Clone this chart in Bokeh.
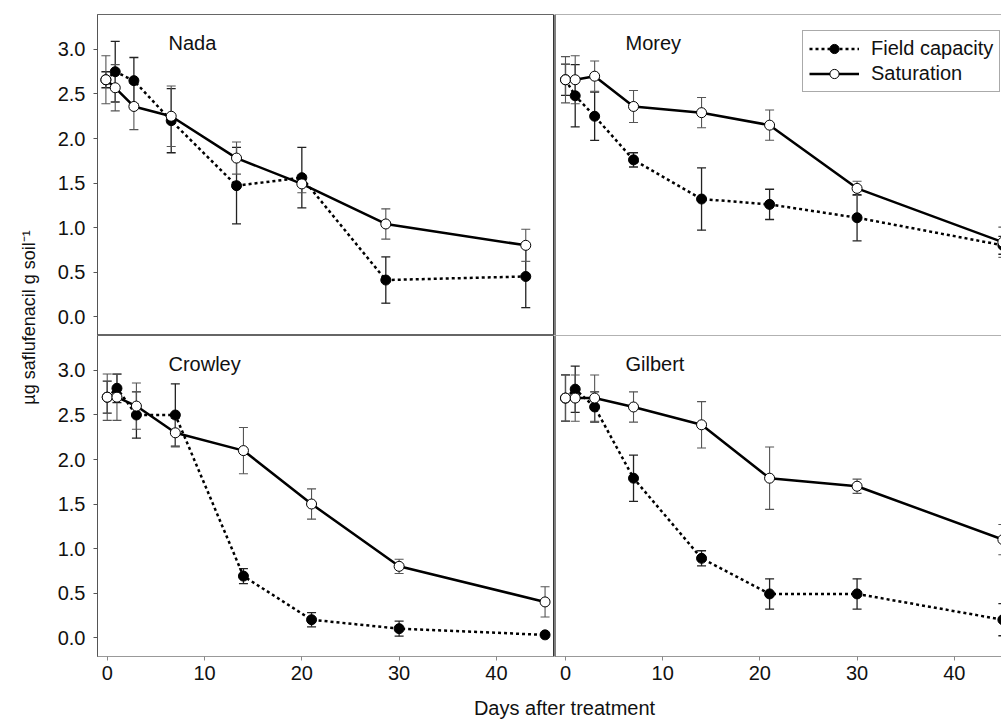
from bokeh.plotting import figure
from bokeh.models import (Range1d, FixedTicker, PrintfTickFormatter, Whisker, TeeHead,
                          ColumnDataSource, Label, Legend, LegendItem, Span)
from bokeh.layouts import row, column
from bokeh.embed import file_html
from bokeh.resources import INLINE

# ---------------- data ----------------
days = [0, 1, 3, 7, 14, 21, 30, 45]

nada_fc = [2.66, 2.75, 2.65, 2.20, 1.47, 1.56, 0.41, 0.45]
nada_fc_err = [0.09, 0.34, 0.26, 0.36, 0.43, 0.34, 0.26, 0.35]
nada_sat = [2.66, 2.57, 2.36, 2.25, 1.78, 1.49, 1.04, 0.80]
nada_sat_err = [0.27, 0.26, 0.26, 0.34, 0.18, 0.10, 0.17, 0.18]

morey_fc = [2.66, 2.48, 2.25, 1.76, 1.32, 1.26, 1.11, 0.80]
morey_fc_err = [0.175, 0.35, 0.27, 0.08, 0.35, 0.17, 0.26, 0.10]
morey_sat = [2.66, 2.66, 2.70, 2.36, 2.29, 2.15, 1.44, 0.835]
morey_sat_err = [0.26, 0.27, 0.17, 0.18, 0.17, 0.17, 0.08, 0.17]

crowley_fc = [2.70, 2.80, 2.50, 2.50, 0.69, 0.20, 0.10, 0.03]
crowley_fc_err = [0.18, 0.16, 0.26, 0.35, 0.085, 0.08, 0.085, 0.0]
crowley_sat = [2.70, 2.70, 2.60, 2.30, 2.10, 1.50, 0.80, 0.40]
crowley_sat_err = [0.26, 0.26, 0.26, 0.16, 0.26, 0.17, 0.08, 0.17]

gilbert_fc = [2.69, 2.79, 2.59, 1.79, 0.89, 0.49, 0.49, 0.20]
gilbert_fc_err = [0.26, 0.26, 0.17, 0.26, 0.085, 0.17, 0.17, 0.18]
gilbert_sat = [2.69, 2.69, 2.69, 2.59, 2.39, 1.79, 1.70, 1.10]
gilbert_sat_err = [0.26, 0.26, 0.26, 0.17, 0.26, 0.35, 0.08, 0.17]

y_ticks = [0.0, 0.5, 1.0, 1.5, 2.0, 2.5, 3.0]
x_ticks = [0, 10, 20, 30, 40]
series_labels = ["Field capacity", "Saturation"]
y_title = "\u00b5g saflufenacil g soil\u207b\u00b9"
x_title = "Days after treatment"

FONT = "Liberation Sans"
YR = (-0.213, 3.393)
FRAME_W, FRAME_H = 457, 321
LEFT_B = 48
BOTTOM_B = 30
TOP_B = 14


def make_panel(title, fc, fce, sat, sate, xr, left, bottom, right_w=None, legend=False):
    fw = FRAME_W if left else right_w
    w = fw + (LEFT_B if left else 0)
    h = FRAME_H + (BOTTOM_B if bottom else TOP_B)
    p = figure(width=w, height=h, x_range=Range1d(*xr), y_range=Range1d(*YR),
               output_backend="svg", toolbar_location=None,
               x_axis_location="below" if bottom else None,
               y_axis_location="left" if left else None,
               min_border_left=LEFT_B if left else 0, min_border_right=0,
               min_border_top=0 if bottom else TOP_B,
               min_border_bottom=BOTTOM_B if bottom else 0)
    p.grid.visible = False
    p.background_fill_color = "white"
    p.border_fill_color = "white"
    if left:
        p.outline_line_color = "#666666"
        p.outline_line_width = 1
        p.add_layout(Span(location=xr[1], dimension="height", line_color="black", line_width=2))
        ax = p.yaxis[0]
        ax.ticker = FixedTicker(ticks=y_ticks)
        ax.formatter = PrintfTickFormatter(format="%.1f")
        ax.axis_line_color = "#555555"
        ax.major_tick_line_color = "#555555"
        ax.major_tick_in = 0
        ax.major_tick_out = 4
        ax.minor_tick_line_color = None
        ax.major_label_text_font = FONT
        ax.major_label_text_font_size = "20px"
        ax.major_label_text_color = "#111111"
        ax.major_label_standoff = 8
    else:
        p.outline_line_color = None
        p.add_layout(Span(location=xr[0], dimension="height", line_color="black", line_width=2))
        p.add_layout(Span(location=YR[1], dimension="width", line_color="#666666", line_width=1))
        if not bottom:
            p.add_layout(Span(location=YR[0], dimension="width", line_color="#777777", line_width=1))
    if bottom:
        ax = p.xaxis[0]
        ax.ticker = FixedTicker(ticks=x_ticks)
        ax.axis_line_color = "#999999"
        ax.major_tick_line_color = "#888888"
        ax.major_tick_in = 0
        ax.major_tick_out = 4
        ax.minor_tick_line_color = None
        ax.major_label_text_font = FONT
        ax.major_label_text_font_size = "20px"
        ax.major_label_text_color = "#111111"
        ax.major_label_standoff = 5

    src = ColumnDataSource(dict(
        x=days, fc=fc, sat=sat,
        fcl=[v - e for v, e in zip(fc, fce)], fcu=[v + e for v, e in zip(fc, fce)],
        satl=[v - e for v, e in zip(sat, sate)], satu=[v + e for v, e in zip(sat, sate)],
    ))
    for lo, up, col, lw in (("fcl", "fcu", "#222222", 1.3), ("satl", "satu", "#555555", 1.1)):
        p.add_layout(Whisker(base="x", lower=lo, upper=up, source=src,
                             line_color=col, line_width=lw,
                             lower_head=TeeHead(size=9, line_color=col, line_width=lw),
                             upper_head=TeeHead(size=9, line_color=col, line_width=lw)))
    fl = p.line("x", "fc", source=src, line_color="black", line_width=2.5, line_dash="3 3")
    fs = p.scatter("x", "fc", source=src, size=10, marker="circle",
                   fill_color="black", line_color="black")
    sl = p.line("x", "sat", source=src, line_color="black", line_width=2.5)
    ss = p.scatter("x", "sat", source=src, size=10, marker="circle",
                   fill_color="white", line_color="black", line_width=1)

    p.add_layout(Label(x=71, y=293, x_units="screen", y_units="screen", text=title,
                       text_font=FONT, text_font_size="20px", text_color="#111111",
                       text_baseline="alphabetic"))
    if legend:
        lg = Legend(items=[LegendItem(label=series_labels[0], renderers=[fl, fs]),
                           LegendItem(label=series_labels[1], renderers=[sl, ss])],
                    location=(248, 243), margin=0, padding=6, spacing=2,
                    glyph_width=50, glyph_height=23, label_height=23, label_standoff=12,
                    label_text_font=FONT, label_text_font_size="20px",
                    label_text_color="#111111",
                    border_line_color="#555555", border_line_width=1,
                    background_fill_color="white", background_fill_alpha=1.0)
        p.add_layout(lg)
    return p


RIGHT_W = 447
XR_TL = (-0.9, 48.08)
XR_BL = (-1.0, 45.97)
XR_R = (-1.13, 44.86)

tl = make_panel("Nada", nada_fc, nada_fc_err, nada_sat, nada_sat_err, XR_TL, True, False)
tr = make_panel("Morey", morey_fc, morey_fc_err, morey_sat, morey_sat_err, XR_R, False, False,
                right_w=RIGHT_W, legend=True)
bl = make_panel("Crowley", crowley_fc, crowley_fc_err, crowley_sat, crowley_sat_err, XR_BL, True, True)
br = make_panel("Gilbert", gilbert_fc, gilbert_fc_err, gilbert_sat, gilbert_sat_err, XR_R, False, True,
                right_w=RIGHT_W)

YLAB_W = 49
total_h = (FRAME_H + TOP_B) + (FRAME_H + BOTTOM_B)
ylab = figure(width=YLAB_W, height=total_h, x_range=Range1d(0, 1), y_range=Range1d(0, 1),
              output_backend="svg", toolbar_location=None, x_axis_location=None,
              y_axis_location=None, min_border=0)
ylab.outline_line_color = None
ylab.grid.visible = False
ylab.add_layout(Label(x=28, y=total_h - 317, x_units="screen", y_units="screen", text=y_title,
                      angle=1.5707963, text_align="center", text_baseline="middle",
                      text_font=FONT, text_font_size="18px", text_color="#111111"))

XLAB_H = 719 - total_h
xlab = figure(width=YLAB_W + LEFT_B + FRAME_W + RIGHT_W, height=XLAB_H,
              x_range=Range1d(0, 1), y_range=Range1d(0, 1),
              output_backend="svg", toolbar_location=None, x_axis_location=None,
              y_axis_location=None, min_border=0)
xlab.outline_line_color = None
xlab.grid.visible = False
xlab.add_layout(Label(x=564, y=12, x_units="screen", y_units="screen", text=x_title,
                      text_align="center", text_baseline="middle",
                      text_font=FONT, text_font_size="20px", text_color="#111111"))

layout = column(row(ylab, column(row(tl, tr), row(bl, br))), xlab)

open("out.html", "w").write(file_html(layout, INLINE))
